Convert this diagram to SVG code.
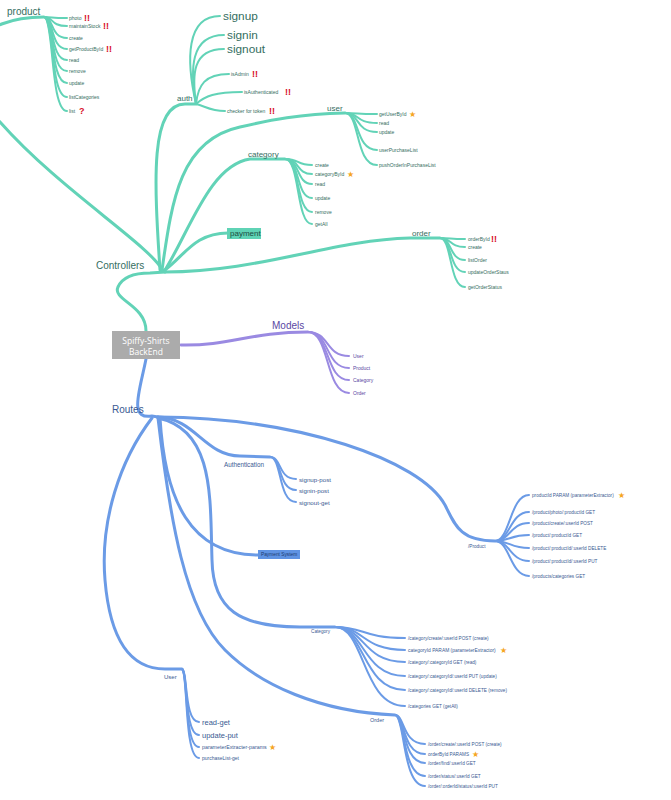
<svg xmlns="http://www.w3.org/2000/svg" width="671" height="800" viewBox="0 0 671 800">
<style>
text{font-family:"Liberation Sans",Arial,sans-serif;dominant-baseline:central}
.c{fill:none;stroke:#62d3b7;stroke-linecap:round}
.m{fill:none;stroke:#9a8ae2;stroke-linecap:round}
.r{fill:none;stroke:#6b9be6;stroke-linecap:round}
.main{stroke-width:3}
.sub{stroke-width:2}
.tc{fill:#356e61}
.tm{fill:#5a47a3}
.tr{fill:#3a5a92}
.s5{font-size:5px}
.s45{font-size:4.7px}
.big{font-size:11.8px}
.lab{font-size:8px}
.top{font-size:10px}
.bang{fill:#d8102a;font-weight:bold;font-size:9px}
.star{fill:#f5a623;font-family:"DejaVu Sans",sans-serif;font-size:8px}
</style>
<rect width="671" height="800" fill="#ffffff"/>
<g id="connectors">
<!-- controllers -->
<path class="c main" d="M146,331 C 146,305 112,300 118,287 C 122,278 132,273 150,273 L165,272"/>
<path class="c main" d="M163,271 C 150,245 60,190 0,122 C -60,55 -20,17 44,17"/>
<path class="c main" d="M160,270 C 154,180 150,104 185,104 L196,104"/>
<path class="c main" d="M162,270 C 172,200 180,140 240,127 C 270,120 300,114 345,113"/>
<path class="c main" d="M165,270 C 190,230 210,165 250,159 L285,159"/>
<path class="c main" d="M165,270 C 185,255 195,233 228,233"/>
<path class="c main" d="M165,272 C 260,272 330,240 410,238 L440,238"/>
<!-- product children -->
<path class="c sub" d="M44,17 C 54,17 50,18 67,18"/>
<path class="c sub" d="M44,17 C 54,17 50,26 67,26"/>
<path class="c sub" d="M44,17 C 54,17 50,38 67,38"/>
<path class="c sub" d="M44,17 C 54,17 50,49 67,49"/>
<path class="c sub" d="M44,17 C 54,17 50,60 67,60"/>
<path class="c sub" d="M44,17 C 54,17 50,71 67,71"/>
<path class="c sub" d="M44,17 C 54,17 50,83 67,83"/>
<path class="c sub" d="M44,17 C 54,17 50,97 67,97"/>
<path class="c sub" d="M44,17 C 54,17 50,111 67,111"/>
<!-- auth children -->
<path class="c sub" d="M196,104 C 186,60 186,16 220,16"/>
<path class="c sub" d="M196,104 C 190,70 190,35 224,35"/>
<path class="c sub" d="M196,104 C 192,75 192,49 224,49"/>
<path class="c sub" d="M196,104 C 198,85 205,74 229,74"/>
<path class="c sub" d="M196,104 C 205,96 215,92 242,92"/>
<path class="c sub" d="M196,104 C 205,106 210,111 225,111"/>
<!-- user children -->
<path class="c sub" d="M345,113 C 360,113 355,114 377,114"/>
<path class="c sub" d="M345,113 C 360,113 355,123 377,123"/>
<path class="c sub" d="M345,113 C 360,113 355,132 377,132"/>
<path class="c sub" d="M345,113 C 360,113 355,150 377,150"/>
<path class="c sub" d="M345,113 C 360,113 355,165 377,165"/>
<!-- category children -->
<path class="c sub" d="M285,159 C 300,159 296,165 312,165"/>
<path class="c sub" d="M285,159 C 300,159 296,174 312,174"/>
<path class="c sub" d="M285,159 C 300,159 296,184 312,184"/>
<path class="c sub" d="M285,159 C 300,159 296,198 312,198"/>
<path class="c sub" d="M285,159 C 300,159 296,212 312,212"/>
<path class="c sub" d="M285,159 C 300,159 296,224 312,224"/>
<!-- order children -->
<path class="c sub" d="M440,238 C 452,238 449,239 465,239"/>
<path class="c sub" d="M440,238 C 452,238 449,247 465,247"/>
<path class="c sub" d="M440,238 C 452,238 449,260 465,260"/>
<path class="c sub" d="M440,238 C 452,238 449,272 465,272"/>
<path class="c sub" d="M440,238 C 452,238 449,287 465,287"/>
<!-- models -->
<path class="m main" d="M181,345 C 230,346 250,332 308,332"/>
<path class="m sub" d="M308,332 C 330,332 325,356 349,356"/>
<path class="m sub" d="M308,332 C 330,332 325,368 349,368"/>
<path class="m sub" d="M308,332 C 330,332 325,380 349,380"/>
<path class="m sub" d="M308,332 C 330,332 325,393 349,393"/>
<!-- routes -->
<path class="r main" d="M146,359 C 140,390 128,420 152,416 L158,417"/>
<path class="r main" d="M158,417 C 195,418 205,456 240,456 L270,457"/>
<path class="r main" d="M160,418 C 165,500 190,555 258,555"/>
<path class="r main" d="M158,417 C 300,418 420,460 445,505 C 455,525 460,541 495,541"/>
<path class="r main" d="M158,418 C 215,430 210,500 212,560 C 213,610 240,627 300,627 L335,627"/>
<path class="r main" d="M158,418 C 170,520 185,610 225,650 C 260,685 320,712 395,715"/>
<path class="r main" d="M152,418 C 120,460 100,520 105,580 C 110,640 130,669 165,669 L182,669"/>
<!-- authentication children -->
<path class="r sub" d="M270,457 C 282,457 278,479 296,479"/>
<path class="r sub" d="M270,457 C 282,457 278,490 296,490"/>
<path class="r sub" d="M270,457 C 282,457 278,502 296,502"/>
<!-- product route children -->
<path class="r sub" d="M495,541 C 510,541 510,495 529,495"/>
<path class="r sub" d="M495,541 C 510,541 510,512 529,512"/>
<path class="r sub" d="M495,541 C 510,541 510,523 529,523"/>
<path class="r sub" d="M495,541 C 510,541 510,535 529,535"/>
<path class="r sub" d="M495,541 C 510,541 510,548 529,548"/>
<path class="r sub" d="M495,541 C 510,541 510,561 529,561"/>
<path class="r sub" d="M495,541 C 510,541 510,576 529,576"/>
<!-- category route children -->
<path class="r sub" d="M335,627 C 365,627 362,638 405,638"/>
<path class="r sub" d="M335,627 C 365,627 362,650 405,650"/>
<path class="r sub" d="M335,627 C 365,627 362,662 405,662"/>
<path class="r sub" d="M335,627 C 365,627 362,676 405,676"/>
<path class="r sub" d="M335,627 C 365,627 362,690 405,690"/>
<path class="r sub" d="M335,627 C 365,627 362,706 405,706"/>
<!-- user route children -->
<path class="r sub" d="M182,669 C 188,672 184,722 199,722"/>
<path class="r sub" d="M182,669 C 188,672 184,735 199,735"/>
<path class="r sub" d="M182,669 C 188,672 184,747 199,747"/>
<path class="r sub" d="M182,669 C 188,672 184,758 199,758"/>
<!-- order route children -->
<path class="r sub" d="M395,715 C 405,715 402,744 425,744"/>
<path class="r sub" d="M395,715 C 405,715 402,754 425,754"/>
<path class="r sub" d="M395,715 C 405,715 402,763 425,763"/>
<path class="r sub" d="M395,715 C 405,715 402,776 425,776"/>
<path class="r sub" d="M395,715 C 405,715 402,786 425,786"/>
</g>

<g id="root">
<rect x="112" y="331" width="68" height="28" fill="#ababab"/>
<text x="146" y="340" text-anchor="middle" fill="#ffffff" style="font-family:'Open Sans',sans-serif;font-size:8.5px">Spiffy-Shirts</text>
<text x="146" y="351" text-anchor="middle" fill="#ffffff" style="font-family:'Open Sans',sans-serif;font-size:8.5px">BackEnd</text>
</g>

<g id="controllers"><text class="tc top" x="96" y="265">Controllers</text></g>

<g id="product">
<text class="tc top" x="7" y="11">product</text>
<text class="tc s5" x="69" y="18">photo</text><text class="bang" x="84" y="18">!!</text>
<text class="tc s5" x="69" y="26">maintainStock</text><text class="bang" x="103" y="26">!!</text>
<text class="tc s5" x="69" y="38">create</text>
<text class="tc s5" x="69" y="49">getProductById</text><text class="bang" x="106" y="49">!!</text>
<text class="tc s5" x="69" y="60">read</text>
<text class="tc s5" x="69" y="71">remove</text>
<text class="tc s5" x="69" y="83">update</text>
<text class="tc s5" x="69" y="97">listCategories</text>
<text class="tc s5" x="69" y="111">list</text><text class="bang" x="79" y="111">?</text>
</g>

<g id="auth">
<text class="tc lab" x="177" y="98">auth</text>
<text class="tc big" x="223" y="16">signup</text>
<text class="tc big" x="227" y="35">signin</text>
<text class="tc big" x="227" y="49">signout</text>
<text class="tc s5" x="231" y="74">isAdmin</text><text class="bang" x="252" y="74">!!</text>
<text class="tc s5" x="244" y="92">isAuthenticated</text><text class="bang" x="285" y="92">!!</text>
<text class="tc s5" x="227" y="111">checker for token</text><text class="bang" x="269" y="111">!!</text>
</g>

<g id="user">
<text class="tc lab" x="327" y="108">user</text>
<text class="tc s5" x="379" y="114">getUserById</text><text class="star" x="409" y="114">★</text>
<text class="tc s5" x="379" y="123">read</text>
<text class="tc s5" x="379" y="132">update</text>
<text class="tc s5" x="379" y="150">userPurchaseList</text>
<text class="tc s5" x="379" y="165">pushOrderInPurchaseList</text>
</g>

<g id="category">
<text class="tc lab" x="248" y="154">category</text>
<text class="tc s5" x="315" y="165">create</text>
<text class="tc s5" x="315" y="174">categoryById</text><text class="star" x="347" y="174">★</text>
<text class="tc s5" x="315" y="184">read</text>
<text class="tc s5" x="315" y="198">update</text>
<text class="tc s5" x="315" y="212">remove</text>
<text class="tc s5" x="315" y="224">getAll</text>
</g>

<g id="payment">
<rect x="227" y="228" width="34" height="11" fill="#5fd3b5"/>
<text x="230" y="233.5" fill="#1d4d42" style="font-size:8px">payment</text>
</g>

<g id="order">
<text class="tc lab" x="412" y="233">order</text>
<text class="tc s5" x="468" y="239">orderById</text><text class="bang" x="491" y="239">!!</text>
<text class="tc s5" x="468" y="247">create</text>
<text class="tc s5" x="468" y="260">listOrder</text>
<text class="tc s5" x="468" y="272">updateOrderStaus</text>
<text class="tc s5" x="468" y="287">getOrderStatus</text>
</g>

<g id="models">
<text class="tm top" x="272" y="325">Models</text>
<text class="tm s5" x="353" y="356">User</text>
<text class="tm s5" x="353" y="368">Product</text>
<text class="tm s5" x="353" y="380">Category</text>
<text class="tm s5" x="353" y="393">Order</text>
</g>

<g id="routes"><text class="tr top" x="112" y="409">Routes</text></g>

<g id="authentication">
<text class="tr" x="224" y="464" style="font-size:6.3px">Authentication</text>
<text class="tr" x="299" y="479" style="font-size:6.2px">signup-post</text>
<text class="tr" x="299" y="490" style="font-size:6.2px">signin-post</text>
<text class="tr" x="299" y="502" style="font-size:6.2px">signout-get</text>
</g>

<g id="payment-system">
<rect x="258" y="550" width="42" height="9" fill="#5f93e3"/>
<text x="261" y="554.5" fill="#1c3a70" style="font-size:4.8px">Payment System</text>
</g>

<g id="product-routes">
<text class="tr s45" x="468" y="546">/Product</text>
<text class="tr s45" x="532" y="495">productId PARAM (parameterExtractor)</text><text class="star" x="618" y="495">★</text>
<text class="tr s45" x="532" y="512">/product/photo/:productId GET</text>
<text class="tr s45" x="532" y="523">/product/create/:userId POST</text>
<text class="tr s45" x="532" y="535">/product/:productId GET</text>
<text class="tr s45" x="532" y="548">/product/:productId/:userId DELETE</text>
<text class="tr s45" x="532" y="561">/product/:productId/:userId PUT</text>
<text class="tr s45" x="532" y="576">/products/categories GET</text>
</g>

<g id="category-routes">
<text class="tr s45" x="311" y="631">Category</text>
<text class="tr s45" x="408" y="638">/category/create/:userId POST (create)</text>
<text class="tr" x="408" y="650" style="font-size:4.9px">categoryId PARAM (parameterExtractor)</text><text class="star" x="500" y="650">★</text>
<text class="tr s45" x="408" y="662">/category/:categoryId GET (read)</text>
<text class="tr s45" x="408" y="676">/category/:categoryId/:userId PUT (update)</text>
<text class="tr s45" x="408" y="690">/category/:categoryId/:userId DELETE (remove)</text>
<text class="tr s45" x="408" y="706">/categories GET (getAll)</text>
</g>

<g id="user-routes">
<text class="tr" x="164" y="677" style="font-size:6px">User</text>
<text class="tr" x="202" y="722" style="font-size:7.5px">read-get</text>
<text class="tr" x="202" y="735" style="font-size:7.5px">update-put</text>
<text class="tr" x="202" y="747" style="font-size:5.3px">parameterExtracter-params</text><text class="star" x="269" y="747">★</text>
<text class="tr s5" x="202" y="758">purchaseList-get</text>
</g>

<g id="order-routes">
<text class="tr" x="370" y="720" style="font-size:5.5px">Order</text>
<text class="tr s45" x="428" y="744">/order/create/:userId POST (create)</text>
<text class="tr s45" x="428" y="754">orderById PARAMS</text><text class="star" x="472" y="754">★</text>
<text class="tr s45" x="428" y="763">/order/find/:userId GET</text>
<text class="tr s45" x="428" y="776">/order/status/:userId GET</text>
<text class="tr s45" x="428" y="786">/order/:orderId/status/:userId PUT</text>
</g>
</svg>
